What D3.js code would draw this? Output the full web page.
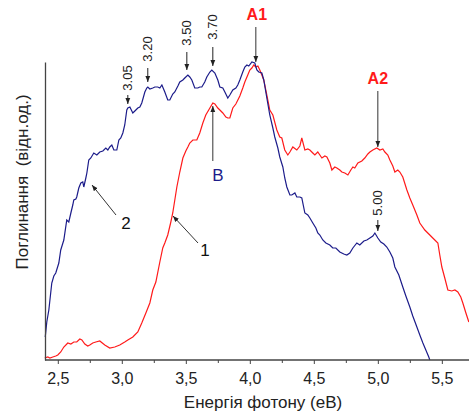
<!DOCTYPE html>
<html>
<head>
<meta charset="utf-8">
<script src="https://cdn.jsdelivr.net/npm/d3@7"></script>
<style>
  html, body { margin: 0; padding: 0; background: #fff; }
  svg { display: block; }
  svg text { font-family: "Liberation Sans", Arial, sans-serif; }
</style>
</head>
<body>
<svg id="chart" width="469" height="419"></svg>
<script>
// ---- Data (photon energy in eV, absorption in relative units) ----
const xTicks = [2.5, 3.0, 3.5, 4.0, 4.5, 5.0, 5.5];
const xMinorTicks = [2.75, 3.25, 3.75, 4.25, 4.75, 5.25];

// Curve 2 (blue)
const blueE = [2.402,2.414,2.430,2.453,2.469,2.484,2.508,2.523,2.547,2.570,2.586,2.602,2.617,2.625,2.641,2.648,2.664,2.680,2.695,2.703,2.719,2.727,2.742,2.758,2.781,2.805,2.828,2.852,2.875,2.891,2.906,2.922,2.938,2.961,2.977,2.992,3.008,3.023,3.039,3.047,3.063,3.086,3.102,3.125,3.141,3.156,3.180,3.195,3.203,3.219,3.242,3.258,3.281,3.297,3.313,3.336,3.359,3.375,3.398,3.414,3.438,3.453,3.477,3.492,3.516,3.531,3.547,3.570,3.594,3.609,3.625,3.648,3.664,3.688,3.703,3.727,3.750,3.766,3.789,3.805,3.828,3.844,3.867,3.891,3.906,3.922,3.945,3.961,3.977,3.992,4.016,4.039,4.055,4.070,4.094,4.109,4.133,4.156,4.180,4.195,4.219,4.234,4.258,4.273,4.289,4.313,4.328,4.352,4.367,4.391,4.406,4.430,4.453,4.469,4.492,4.516,4.531,4.547,4.570,4.594,4.625,4.648,4.672,4.703,4.734,4.758,4.781,4.805,4.836,4.859,4.891,4.914,4.938,4.961,4.977,5.000,5.023,5.047,5.070,5.094,5.117,5.133,5.164,5.195,5.219,5.250,5.273,5.305,5.328,5.352,5.375,5.398,5.406];
const blueA = [23,38,50,77,84,87,97,110,120,140,138,147,155,160,161,163,172,177,178,173,182,187,200,202,207,205,208,209,212,210,213,215,210,210,220,222,227,235,250,252,253,247,249,252,253,257,268,272,273,271,272,273,273,272,275,268,260,260,266,268,274,278,280,282,285,283,280,272,272,273,273,278,283,288,290,287,280,273,272,268,262,265,270,272,275,280,288,293,295,294,298,297,290,288,287,280,262,245,232,223,212,203,193,182,173,165,165,167,163,163,162,147,145,142,137,132,127,125,120,117,115,112,112,108,106,105,107,112,117,115,119,120,122,124,127,122,118,116,113,108,102,93,85,73,64,53,44,33,25,17,10,3,0];

// Curve 1 (red)
const redE = [2.398,2.422,2.438,2.461,2.484,2.500,2.523,2.547,2.578,2.602,2.625,2.648,2.672,2.688,2.711,2.734,2.750,2.773,2.797,2.828,2.867,2.906,2.945,2.984,3.023,3.047,3.086,3.125,3.156,3.188,3.219,3.242,3.266,3.297,3.320,3.336,3.359,3.383,3.398,3.414,3.430,3.453,3.477,3.500,3.516,3.531,3.555,3.586,3.609,3.633,3.656,3.688,3.711,3.727,3.750,3.766,3.789,3.813,3.828,3.844,3.867,3.891,3.922,3.945,3.961,3.984,4.000,4.016,4.031,4.047,4.063,4.078,4.094,4.109,4.133,4.156,4.180,4.211,4.234,4.250,4.273,4.297,4.313,4.336,4.367,4.391,4.406,4.430,4.453,4.469,4.492,4.508,4.531,4.563,4.586,4.602,4.625,4.641,4.664,4.680,4.703,4.719,4.742,4.766,4.789,4.805,4.820,4.844,4.875,4.898,4.922,4.938,4.961,4.992,5.016,5.039,5.055,5.078,5.094,5.117,5.133,5.156,5.172,5.195,5.227,5.250,5.273,5.305,5.328,5.367,5.406,5.445,5.469,5.484,5.500,5.523,5.547,5.578,5.602,5.625,5.648,5.664,5.688,5.711];
const redA = [2,3,2,3,4,5,8,13,17,16,18,18,21,20,16,14,15,17,18,19,15,12,13,15,18,20,23,28,37,47,57,70,78,98,112,117,125,138,147,160,173,188,202,209,213,217,220,220,227,237,245,252,257,256,252,250,247,243,242,242,252,256,264,272,278,285,290,292,295,293,294,290,285,280,265,250,245,230,223,222,210,205,208,213,210,214,222,210,211,210,207,205,208,202,204,203,197,190,193,192,190,188,187,185,190,193,192,197,199,202,206,208,210,212,210,211,208,205,200,194,188,190,188,183,170,162,155,145,137,130,125,120,117,105,93,82,70,69,70,68,63,57,47,38];

// Peak annotations (energy, label)
const peakLabels = ["3.05", "3.20", "3.50", "3.70", "5.00"];
const peakE = [3.047, 3.203, 3.508, 3.711, 5.000];

// ---- Drawing ----
const FONT = '"Liberation Sans", Arial, sans-serif';
const svg = d3.select("#chart");
const x = d3.scaleLinear().domain([2.4, 5.72]).range([45, 470]);
const y = d3.scaleLinear().domain([0, 298]).range([360, 62]);

const defs = svg.append("defs");
defs.append("marker").attr("id", "ah")
  .attr("viewBox", "0 0 10 10").attr("refX", 10).attr("refY", 5)
  .attr("markerWidth", 6).attr("markerHeight", 6).attr("markerUnits", "userSpaceOnUse")
  .attr("orient", "auto")
  .append("path").attr("d", "M0,1 L10,5 L0,9 Z").attr("fill", "#222");

// Curves
const line = d3.line().x(d => x(d[0])).y(d => y(d[1]));
svg.append("path").datum(redE.map((e, i) => [e, redA[i]]))
  .attr("d", line).attr("fill", "none").attr("stroke", "#ff1a1a").attr("stroke-width", 1.2);
svg.append("path").datum(blueE.map((e, i) => [e, blueA[i]]))
  .attr("d", line).attr("fill", "none").attr("stroke", "#1c1c8a").attr("stroke-width", 1.2);

// X axis
const xAxis = svg.append("g").attr("transform", `translate(0,${y(0)})`)
  .call(d3.axisBottom(x).tickValues(xTicks).tickSize(4).tickPadding(9)
    .tickFormat(d => d3.format(".1f")(d).replace(".", ",")));
xAxis.attr("font-family", FONT);
xAxis.select(".domain").attr("stroke", "#444").attr("stroke-width", 1.3).attr("d", `M${x(2.4)},0H469`);
xAxis.selectAll(".tick line").attr("stroke", "#444");
xAxis.selectAll(".tick text").attr("font-size", 16).attr("fill", "#222").style("font-family", FONT);
const xMinor = svg.append("g").attr("transform", `translate(0,${y(0)})`)
  .call(d3.axisBottom(x).tickValues(xMinorTicks).tickSize(3).tickFormat(""));
xMinor.select(".domain").remove();
xMinor.selectAll(".tick line").attr("stroke", "#444");

// Y axis (line only)
const yAxis = svg.append("g").attr("transform", `translate(${x(2.4)},0)`)
  .call(d3.axisLeft(y).tickValues([]).tickSizeOuter(0));
yAxis.select(".domain").attr("stroke", "#444").attr("stroke-width", 1.3);

// Axis titles
svg.append("text").attr("x", 263).attr("y", 408).attr("text-anchor", "middle")
  .attr("font-size", 17).attr("fill", "#222").text("Енергія фотону (еВ)");
svg.append("text").attr("transform", "translate(28,182) rotate(-90)")
  .attr("text-anchor", "middle").attr("font-size", 17).attr("fill", "#222")
  .attr("xml:space", "preserve").style("white-space", "pre")
  .text("Поглинання  (відн.од.)");

// Peak value labels with short arrows (blue curve)
const peakText = [[78, 95, 104], [49, 68, 82], [33, 52, 70], [27, 47, 66], [203, 220, 231]];
peakE.forEach((e, i) => {
  const [ty, a0, a1] = peakText[i];
  const px = x(e);
  svg.append("line").attr("x1", px).attr("x2", px).attr("y1", a0).attr("y2", a1)
    .attr("stroke", "#222").attr("stroke-width", 1).attr("marker-end", "url(#ah)");
  svg.append("text").attr("transform", `translate(${px + 4.5},${ty}) rotate(-90)`)
    .attr("text-anchor", "middle").attr("font-size", 13).attr("fill", "#222").text(peakLabels[i]);
});

// A1, A2, B labels with arrows
function arrow(x1, y1, x2, y2, col) {
  svg.append("line").attr("x1", x1).attr("y1", y1).attr("x2", x2).attr("y2", y2)
    .attr("stroke", col || "#333").attr("stroke-width", 1).attr("marker-end", "url(#ah)");
}
svg.append("text").attr("x", x(4.047) + 1).attr("y", 20).attr("text-anchor", "middle")
  .attr("font-size", 16).attr("font-weight", "bold").attr("fill", "#ff1a1a").text("A1");
arrow(x(4.047), 27, x(4.047), 62);
svg.append("text").attr("x", x(5.0)).attr("y", 84).attr("text-anchor", "middle")
  .attr("font-size", 16).attr("font-weight", "bold").attr("fill", "#ff1a1a").text("A2");
arrow(x(5.0), 91, x(5.0), 147);
svg.append("text").attr("x", 218).attr("y", 181).attr("text-anchor", "middle")
  .attr("font-size", 17).attr("fill", "#1c1c8a").text("B");
arrow(x(3.711), 161, x(3.711), 106);

// Curve number labels
svg.append("text").attr("x", 126).attr("y", 229).attr("text-anchor", "middle")
  .attr("font-size", 17).attr("fill", "#111").text("2");
arrow(116, 215, 92, 185);
svg.append("text").attr("x", 205).attr("y", 256).attr("text-anchor", "middle")
  .attr("font-size", 17).attr("fill", "#111").text("1");
arrow(198, 243, 173, 216);
</script>
</body>
</html>
